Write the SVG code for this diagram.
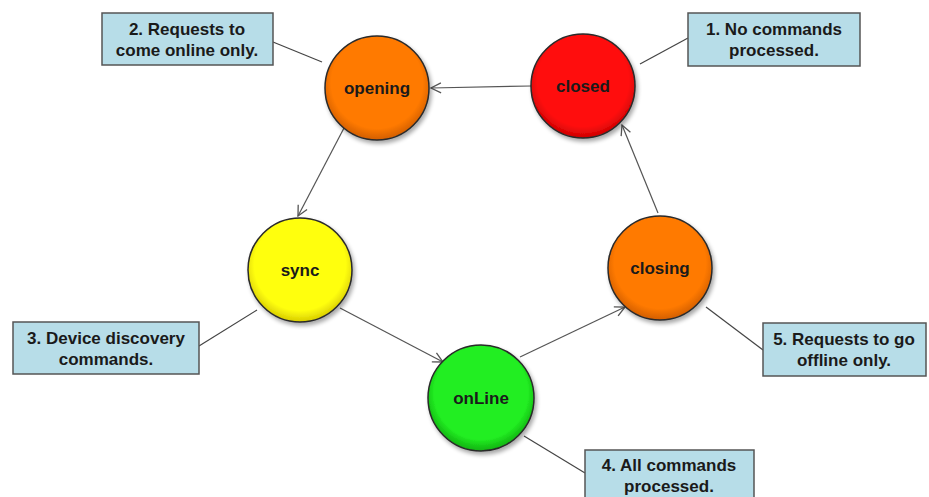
<svg xmlns="http://www.w3.org/2000/svg" width="929" height="497" viewBox="0 0 929 497">
  <style>
    .lbl { font-family: "Liberation Sans", Arial, sans-serif; font-weight: bold; font-size: 17px; fill: #1a1a1a; text-anchor: middle; }
    .state { stroke: #2a2a2a; stroke-width: 1.5; }
    .note { fill: #b7dde8; stroke: #555; stroke-width: 1.5; }
    .lead { stroke: #444; stroke-width: 1.2; fill: none; }
    .flow { stroke: #555; stroke-width: 1.2; fill: none; marker-end: url(#arrow); }
  </style>
  <defs>
    <marker id="arrow" viewBox="0 0 12 12" refX="11" refY="6" markerWidth="12" markerHeight="12" markerUnits="userSpaceOnUse" orient="auto">
      <path d="M1,1 L11,6 L1,11" fill="none" stroke="#555" stroke-width="1.3"/>
    </marker>
    <filter id="shadow" x="-20%" y="-20%" width="150%" height="150%">
      <feGaussianBlur in="SourceAlpha" stdDeviation="2"/>
      <feOffset dx="2" dy="3" result="b"/>
      <feComponentTransfer><feFuncA type="linear" slope="0.35"/></feComponentTransfer>
      <feMerge><feMergeNode/><feMergeNode in="SourceGraphic"/></feMerge>
    </filter>
    <radialGradient id="gOrange" cx="50%" cy="45%" r="55%">
      <stop offset="0.8" stop-color="#ff7a05"/>
      <stop offset="1" stop-color="#d25e00"/>
    </radialGradient>
    <radialGradient id="gRed" cx="50%" cy="45%" r="55%">
      <stop offset="0.8" stop-color="#ff1010"/>
      <stop offset="1" stop-color="#cc0000"/>
    </radialGradient>
    <radialGradient id="gYellow" cx="50%" cy="45%" r="55%">
      <stop offset="0.8" stop-color="#ffff10"/>
      <stop offset="1" stop-color="#d8cc00"/>
    </radialGradient>
    <radialGradient id="gGreen" cx="50%" cy="45%" r="55%">
      <stop offset="0.8" stop-color="#22ee22"/>
      <stop offset="1" stop-color="#10b010"/>
    </radialGradient>
  </defs>

  <rect width="929" height="497" fill="#ffffff"/>

  <!-- transitions and callout leaders -->
  <g id="connectors">
    <line class="flow" x1="531" y1="86" x2="431" y2="88"/>
    <line class="flow" x1="344" y1="128" x2="298" y2="216"/>
    <line class="flow" x1="340" y1="308" x2="443" y2="362"/>
    <line class="flow" x1="520" y1="357" x2="625" y2="307"/>
    <line class="flow" x1="658" y1="213" x2="622" y2="125"/>

    <line class="lead" x1="273" y1="42" x2="322" y2="62"/>
    <line class="lead" x1="688" y1="38" x2="640" y2="64"/>
    <line class="lead" x1="199" y1="346" x2="257" y2="310"/>
    <line class="lead" x1="763" y1="350" x2="706" y2="307"/>
    <line class="lead" x1="585" y1="473" x2="524" y2="436"/>
  </g>

  <!-- states -->
  <g id="closed">
    <circle class="state" cx="583" cy="86" r="52" fill="url(#gRed)" filter="url(#shadow)"/>
    <text class="lbl" x="583" y="92">closed</text>
  </g>
  <g id="opening">
    <circle class="state" cx="377" cy="88" r="52" fill="url(#gOrange)" filter="url(#shadow)"/>
    <text class="lbl" x="377" y="94">opening</text>
  </g>
  <g id="sync">
    <circle class="state" cx="300" cy="270" r="52" fill="url(#gYellow)" filter="url(#shadow)"/>
    <text class="lbl" x="300" y="276">sync</text>
  </g>
  <g id="onLine">
    <circle class="state" cx="481" cy="398" r="53" fill="url(#gGreen)" filter="url(#shadow)"/>
    <text class="lbl" x="481" y="404">onLine</text>
  </g>
  <g id="closing">
    <circle class="state" cx="660" cy="268" r="52" fill="url(#gOrange)" filter="url(#shadow)"/>
    <text class="lbl" x="660" y="274">closing</text>
  </g>

  <!-- notes -->
  <g id="note1">
    <rect class="note" x="688" y="13" width="172" height="53"/>
    <text class="lbl" x="774" y="35">1. No commands</text>
    <text class="lbl" x="774" y="56">processed.</text>
  </g>
  <g id="note2">
    <rect class="note" x="102" y="13" width="171" height="52"/>
    <text class="lbl" x="187" y="35">2. Requests to</text>
    <text class="lbl" x="187" y="56">come online only.</text>
  </g>
  <g id="note3">
    <rect class="note" x="13" y="322" width="186" height="52"/>
    <text class="lbl" x="106" y="344">3. Device discovery</text>
    <text class="lbl" x="106" y="365">commands.</text>
  </g>
  <g id="note4">
    <rect class="note" x="585" y="450" width="169" height="52"/>
    <text class="lbl" x="669" y="471">4. All commands</text>
    <text class="lbl" x="669" y="492">processed.</text>
  </g>
  <g id="note5">
    <rect class="note" x="763" y="323" width="163" height="53"/>
    <text class="lbl" x="844" y="345">5. Requests to go</text>
    <text class="lbl" x="844" y="366">offline only.</text>
  </g>
</svg>
